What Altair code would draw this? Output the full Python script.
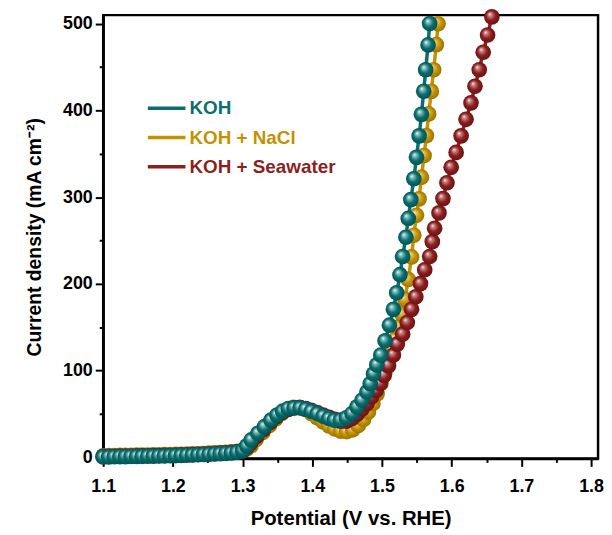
import altair as alt
import pandas as pd

FONT = "Liberation Sans"

series_names = ["KOH", "KOH + NaCl", "KOH + Seawater"]
colors = ["#0a6e6e", "#c39200", "#8c1f1f"]

x_ticks = [1.1, 1.2, 1.3, 1.4, 1.5, 1.6, 1.7, 1.8]
x_minor = [1.15, 1.25, 1.35, 1.45, 1.55, 1.65, 1.75]
y_ticks = [0, 100, 200, 300, 400, 500]
y_minor = [50, 150, 250, 350, 450]

flat_v = [1.100, 1.108, 1.116, 1.124, 1.132, 1.140, 1.148, 1.156, 1.164, 1.172,
          1.180, 1.188, 1.196, 1.204, 1.212, 1.220, 1.228, 1.236, 1.244, 1.252,
          1.260, 1.268, 1.276, 1.284, 1.292, 1.300]

koh_v = flat_v + [1.3060, 1.3124, 1.3219, 1.3314, 1.3408, 1.3494, 1.3575, 1.3656, 1.3741, 1.3827,
                  1.3906, 1.3987, 1.4073, 1.4158, 1.4239, 1.4319, 1.4404, 1.4489, 1.4570, 1.4642,
                  1.4713, 1.4784, 1.4831, 1.4879, 1.4926, 1.4983, 1.5044, 1.5107, 1.5164, 1.5211,
                  1.5258, 1.5296, 1.5343, 1.5377, 1.5414, 1.5457, 1.5495, 1.5533, 1.5566, 1.5599,
                  1.5627, 1.5661, 1.5684]
koh_j = [0.2, 0.3, 0.4, 0.5, 0.6, 0.7, 0.8, 0.9, 1.0, 1.1, 1.3, 1.4, 1.6, 1.8, 2.0, 2.2,
         2.4, 2.7, 3.0, 3.3, 3.6, 4.0, 4.4, 4.9, 5.6, 7.5] + \
        [13.0, 19.8, 27.5, 35.1, 42.7, 48.4, 53.0, 56.1, 56.9, 56.9,
         55.3, 53.0, 50.3, 47.3, 44.6, 42.7, 42.7, 45.4, 50.3, 58.0,
         65.6, 75.2, 84.7, 96.1, 106.4, 117.8, 134.2, 152.2, 170.5, 189.6,
         210.5, 231.5, 253.7, 275.4, 297.1, 321.2, 345.9, 370.7, 395.5, 422.2,
         447.0, 475.6, 500.3]

nacl_v = flat_v + [1.3060, 1.3120, 1.3195, 1.3290, 1.3385, 1.3475, 1.3560, 1.3645, 1.3730, 1.3815,
                   1.3900, 1.3985, 1.4070, 1.4155, 1.4240, 1.4325, 1.4410, 1.4495, 1.4580, 1.4660,
                   1.4735, 1.4805, 1.4870, 1.4930, 1.4985, 1.5040, 1.5090, 1.5140, 1.5190, 1.5240,
                   1.5285, 1.5329, 1.5377, 1.5424, 1.5457, 1.5495, 1.5532, 1.5566, 1.5604, 1.5637,
                   1.5670, 1.5708, 1.5741, 1.5780, 1.5804]
nacl_j = [1.6, 1.7, 1.8, 1.9, 2.0, 2.1, 2.2, 2.3, 2.4, 2.5, 2.6, 2.8, 2.9, 3.1, 3.3, 3.5,
          3.7, 3.9, 4.2, 4.5, 4.8, 5.1, 5.5, 6.0, 6.6, 7.5] + \
         [9.5, 13.0, 20.5, 28.5, 36.5, 44.0, 50.5, 55.0, 57.5, 57.5,
          55.0, 50.5, 45.5, 40.5, 36.0, 32.5, 30.0, 29.5, 31.5, 36.5,
          43.5, 52.0, 62.0, 73.0, 85.0, 97.0, 109.0, 122.0, 136.0, 150.0,
          165.0, 182.0, 205.0, 231.0, 256.0, 279.0, 298.0, 323.0, 348.0, 371.0,
          396.0, 422.0, 447.0, 476.0, 500.0]

sea_v = flat_v + [1.3060, 1.3115, 1.3205, 1.3300, 1.3395, 1.3485, 1.3570, 1.3655, 1.3740, 1.3825,
                  1.3905, 1.3985, 1.4070, 1.4155, 1.4240, 1.4320, 1.4405, 1.4490, 1.4570, 1.4645,
                  1.4715, 1.4784, 1.4850, 1.4915, 1.4975, 1.5030, 1.5093, 1.5164, 1.5220, 1.5296,
                  1.5363, 1.5424, 1.5485, 1.5552, 1.5613, 1.5684, 1.5722, 1.5755, 1.5818, 1.5875,
                  1.5932, 1.5993, 1.6064, 1.6135, 1.6206, 1.6277, 1.6334, 1.6395, 1.6452, 1.6515,
                  1.6576]
sea_j = [0.8, 0.9, 1.0, 1.1, 1.2, 1.3, 1.4, 1.5, 1.6, 1.7, 1.8, 2.0, 2.1, 2.3, 2.5, 2.7,
         2.9, 3.2, 3.5, 3.8, 4.1, 4.5, 4.9, 5.4, 6.0, 7.2] + \
        [11.0, 16.0, 24.0, 32.0, 40.0, 46.5, 51.5, 55.0, 56.8, 57.0,
         56.0, 54.0, 51.5, 48.5, 46.0, 43.5, 41.5, 41.5, 44.5, 49.5,
         55.5, 62.0, 69.5, 77.0, 85.0, 94.2, 105.6, 117.8, 130.4, 141.9,
         155.3, 170.5, 185.0, 200.2, 216.2, 231.5, 248.6, 264.0, 281.8, 298.3,
         316.6, 334.4, 351.6, 370.7, 389.8, 408.8, 427.9, 447.0, 467.2, 487.1,
         508.0]


def frame(name, v, j):
    return pd.DataFrame({"series": name, "V": v, "J": j})


df_koh = frame(series_names[0], koh_v, koh_j)
df_nacl = frame(series_names[1], nacl_v, nacl_j)
df_sea = frame(series_names[2], sea_v, sea_j)


def sphere(light, mid, dark):
    return {
        "gradient": "radial",
        "x1": 0.36, "y1": 0.32, "r1": 0.0,
        "x2": 0.5, "y2": 0.5, "r2": 0.55,
        "stops": [
            {"offset": 0.0, "color": "#ffffff"},
            {"offset": 0.18, "color": light},
            {"offset": 0.55, "color": mid},
            {"offset": 1.0, "color": dark},
        ],
    }


grads = [
    sphere("#8cc4c4", "#0a6e6e", "#004e4e"),
    sphere("#e6c870", "#c39200", "#946e00"),
    sphere("#cc8a8a", "#8c1f1f", "#641010"),
]

x_scale = alt.Scale(domain=[1.1, 1.81], nice=False, zero=False)
y_scale = alt.Scale(domain=[-1.5, 510], nice=False, zero=False)

x_major = alt.Axis(values=x_ticks, format=".1f", title="Potential (V vs. RHE)",
                   tickSize=8, tickWidth=2, domainWidth=2.5, grid=False, labelFlush=False,
                   labelFont=FONT, labelFontSize=18, labelFontWeight="bold", labelColor="black",
                   labelPadding=11, titleFont=FONT, titleFontSize=20.5, titleFontWeight="bold",
                   titleColor="black", titlePadding=14, domainColor="black", tickColor="black",
                   orient="bottom")
x_min_axis = alt.Axis(values=x_minor, labels=False, domain=False, tickSize=4, tickWidth=2,
                      title=None, grid=False, orient="bottom", tickColor="black")
y_major = alt.Axis(values=y_ticks, format="d", title="Current density (mA cm⁻²)",
                   tickSize=8, tickWidth=2, domainWidth=2.5, grid=False, labelFlush=False,
                   labelFont=FONT, labelFontSize=18, labelFontWeight="bold", labelColor="black",
                   labelPadding=3, titleFont=FONT, titleFontSize=19.5, titleFontWeight="bold",
                   titleColor="black", titlePadding=18, domainColor="black", tickColor="black",
                   orient="left")
y_min_axis = alt.Axis(values=y_minor, labels=False, domain=False, tickSize=4, tickWidth=2,
                      title=None, grid=False, orient="left", tickColor="black")

label_expr = ("datum.value == 'KOH' ? '%s' : (datum.value == 'KOH + NaCl' ? '%s' : '%s')"
              % (colors[0], colors[1], colors[2]))

legend = alt.Legend(title=None, orient="none", legendX=49, legendY=79,
                    symbolType="M-1.46,0H1.46", symbolSize=676, symbolStrokeWidth=3.5,
                    labelFont=FONT, labelFontSize=19, labelFontWeight="bold",
                    labelColor={"expr": label_expr}, labelOffset=8, rowPadding=4.5, padding=0)

color = alt.Color("series:N", scale=alt.Scale(domain=series_names, range=colors), legend=legend)


def line_layer(df, xa, ya):
    return alt.Chart(df).mark_line(strokeWidth=3.5).encode(
        x=alt.X("V:Q", scale=x_scale, axis=xa),
        y=alt.Y("J:Q", scale=y_scale, axis=ya),
        color=color,
    )


def pts_layer(df, g, xa=None, ya=None):
    return alt.Chart(df).mark_circle(size=250, fill=g, opacity=1, fillOpacity=1, strokeWidth=0).encode(
        x=alt.X("V:Q", scale=x_scale, axis=xa),
        y=alt.Y("J:Q", scale=y_scale, axis=ya),
    )


chart = alt.layer(
    line_layer(df_nacl, x_major, y_major),
    pts_layer(df_nacl, grads[1], x_min_axis, y_min_axis),
    line_layer(df_sea, None, None),
    pts_layer(df_sea, grads[2]),
    line_layer(df_koh, None, None),
    pts_layer(df_koh, grads[0]),
).resolve_axis(x="independent", y="independent").properties(
    width=499, height=447,
    autosize="none",
    padding={"left": 96, "top": 5, "right": 6, "bottom": 70},
).configure_view(stroke="black", strokeWidth=2.5)

chart.save("out.html", embed_options={"renderer": "svg", "actions": False})
